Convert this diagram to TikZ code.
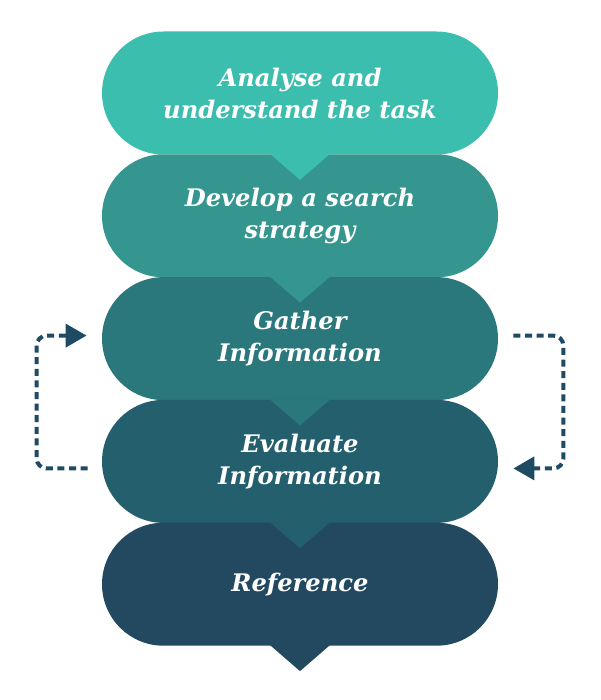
\documentclass[tikz,border=0pt]{standalone}
\usepackage{fontspec}
\setmainfont{DejaVu Serif}
\usetikzlibrary{arrows.meta,positioning,calc,shapes.misc}
\definecolor{stageA}{HTML}{3BBEAE}
\definecolor{stageB}{HTML}{35958F}
\definecolor{stageC}{HTML}{2A787C}
\definecolor{stageD}{HTML}{245F6E}
\definecolor{stageE}{HTML}{22495F}
\definecolor{cycdark}{HTML}{1F4A63}
\tikzset{
  stage/.style     = {rounded rectangle, minimum width=198pt, minimum height=61.5pt,
                      inner sep=0pt, text=white, align=center,
                      font=\fontsize{12.1}{16}\selectfont\bfseries\itshape},
  cyclearrow/.style= {draw=cycdark, line width=2pt, dash pattern=on 3.5pt off 2.3pt,
                      rounded corners=5pt, -{Triangle[length=10.5pt,width=11.5pt]}},
}

\begin{document}
\begin{tikzpicture}[x=0.5pt,y=-0.5pt]
  \useasboundingbox (0,0) rectangle (600,700);
  % stages
  \node[stage, fill=stageA] (s1) at (300,93) {Analyse and\\understand the task};
  \node[stage, fill=stageB, below=-0.5pt of s1] (s2) {Develop a search\\strategy};
  \node[stage, fill=stageC, below=-0.5pt of s2] (s3) {Gather\\Information};
  \node[stage, fill=stageD, below=-0.5pt of s3] (s4) {Evaluate\\Information};
  \node[stage, fill=stageE, below=-0.5pt of s4] (s5) {Reference};
  % pointers
  \fill[stageA] ($(s1.south)+(-30,-1)$) -- ($(s1.south)+(30,-1)$) -- ($(s1.south)+(0,25)$) -- cycle;
  \fill[stageB] ($(s2.south)+(-30,-1)$) -- ($(s2.south)+(30,-1)$) -- ($(s2.south)+(0,25)$) -- cycle;
  \fill[stageC] ($(s3.south)+(-30,-1)$) -- ($(s3.south)+(30,-1)$) -- ($(s3.south)+(0,25)$) -- cycle;
  \fill[stageD] ($(s4.south)+(-30,-1)$) -- ($(s4.south)+(30,-1)$) -- ($(s4.south)+(0,25)$) -- cycle;
  \fill[stageE] ($(s5.south)+(-30,-1)$) -- ($(s5.south)+(30,-1)$) -- ($(s5.south)+(0,25)$) -- cycle;
  % loop between gather and evaluate
  \coordinate (gl-out) at ($(s4.west)+(-14,7)$);
  \coordinate (gl-in)  at ($(s3.west)+(-15,-3)$);
  \coordinate (ev-out) at ($(s3.east)+(15,-3)$);
  \coordinate (ev-in)  at ($(s4.east)+(15,7)$);
  \draw[cyclearrow] (gl-out) -- ++(-51,0) |- (gl-in);
  \draw[cyclearrow] (ev-out) -- ++(50,0) |- (ev-in);
\end{tikzpicture}
\end{document}
